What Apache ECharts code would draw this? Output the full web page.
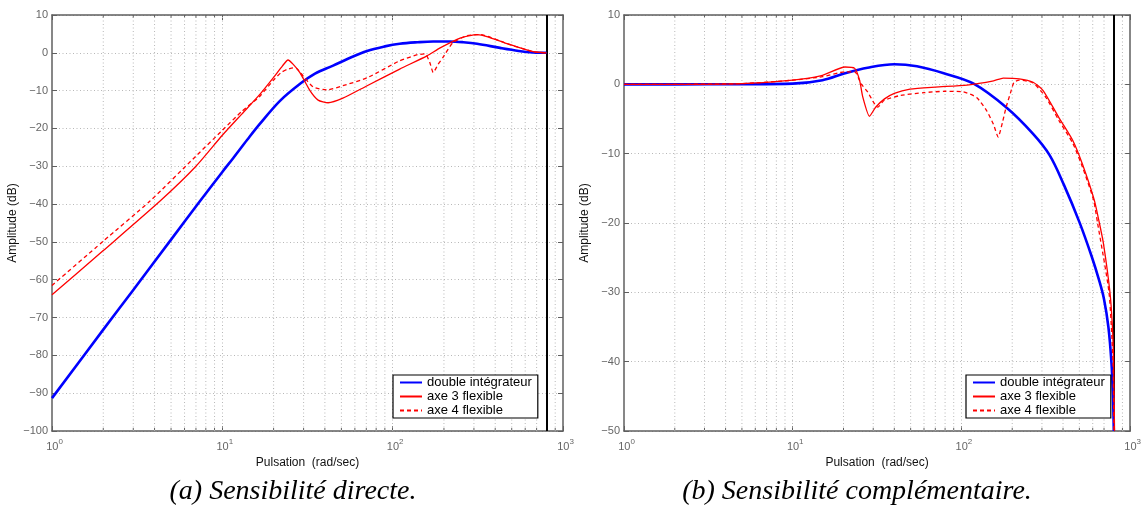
<!DOCTYPE html>
<html>
<head>
<meta charset="utf-8">
<script src="https://cdn.jsdelivr.net/npm/echarts@6/dist/echarts.min.js"></script>
<style>
html,body{margin:0;padding:0;background:#fff;}
#chart{width:1144px;height:509px;}
</style>
</head>
<body>
<div id="chart"></div>
<script>
// ---------- data ----------
const seriesNames = ['double intégrateur', 'axe 3 flexible', 'axe 4 flexible'];
const minorFreqs = [2,3,4,5,6,7,8,9,20,30,40,50,60,70,80,90,200,300,400,500,600,700,800,900];
const nyquistFreq = 800;
const captions = ['(a) Sensibilité directe.', '(b) Sensibilité complémentaire.'];

// (a) Sensibilité directe
const freqBlueA = [1, 2, 3, 5, 7.4, 10, 11.6, 14, 16.6, 21.8, 28.6, 35, 44.7, 55, 70.8, 90, 110, 140, 173, 217, 260, 313, 427, 550, 667, 800];
const ampBlueA  = [-91.3, -73.2, -62.7, -49.4, -39.2, -31.5, -27.8, -23, -18.8, -12.7, -8.2, -5.5, -3.4, -1.5, 0.5, 1.7, 2.4, 2.8, 3.0, 3.0, 2.8, 2.4, 1.3, 0.5, 0.1, 0];
const freqAxe3A = [1, 2, 4.31, 7, 10, 13, 16.6, 20, 22.5, 24.3, 26, 28.6, 32.7, 36.5, 41.8, 51, 70.8, 110, 159, 190, 249, 313, 358, 470, 667, 800];
const ampAxe3A  = [-64, -52.3, -39.2, -30, -21.8, -16.2, -11, -6.5, -3.5, -1.9, -3, -5.3, -10, -12.5, -13.2, -12, -8.7, -4.3, -0.8, 1.3, 3.9, 4.8, 4.3, 2.4, 0.3, 0];
const freqAxe4A = [1, 2, 3.76, 7, 10, 13, 16.5, 19.9, 22, 23.9, 26, 27.4, 29.8, 34.1, 41.1, 51, 70.8, 110, 140, 155, 165, 173, 185, 197, 225, 272, 327, 470, 667, 800];
const ampAxe4A  = [-61.5, -49.8, -39.2, -27.3, -20.5, -15.5, -11.6, -7.3, -5.3, -4.4, -4.0, -4.2, -6.1, -9, -9.8, -8.7, -6.6, -2.1, -0.5, -0.3, -2.5, -5.2, -3, -1.3, 2.6, 4.5, 4.8, 2.4, 0.3, 0];

// (b) Sensibilité complémentaire
const freqBlueB = [1, 2, 5, 10, 15, 20.4, 27.8, 40, 54.5, 78.6, 118, 184, 265, 333, 405, 499, 591, 659, 700, 743, 774, 791, 800];
const ampBlueB  = [0, 0, 0.02, 0.1, 0.6, 1.6, 2.4, 2.9, 2.6, 1.6, 0.1, -3.3, -7.1, -10.2, -14.5, -19.8, -24.8, -28.5, -31, -35, -40, -45, -50];
const freqAxe3B = [1, 2, 5, 10, 15, 20.4, 23.3, 24.9, 26, 28.5, 31, 35, 40, 49.6, 70, 108, 155, 177, 220, 266, 305, 378, 457, 523, 613, 657, 695, 759, 785, 798, 808];
const ampAxe3B  = [0, 0, 0.1, 0.6, 1.3, 2.5, 2.3, 0.6, -1.8, -4.6, -3.3, -2.1, -1.3, -0.7, -0.4, -0.1, 0.5, 0.9, 0.8, 0.3, -0.9, -4.8, -8.1, -11.6, -16.7, -20, -23, -30, -35, -40, -50];
const freqAxe4B = [1, 2, 5, 10, 15, 20.4, 23.3, 25.4, 27.8, 30, 31.9, 34.9, 43.6, 60, 80, 103, 123, 141, 155, 165, 175, 184, 195, 205, 220, 266, 317, 378, 457, 523, 607, 641, 749, 791, 801];
const ampAxe4B  = [0, 0, 0.1, 0.6, 1.1, 1.8, 1.8, 0.1, -1.1, -2.5, -3.3, -2.3, -1.6, -1.2, -1.0, -1.1, -1.9, -3.8, -5.8, -7.6, -5.5, -3.3, -1.3, 0.3, 0.6, 0.2, -1.9, -5.2, -8.5, -12, -16.7, -20, -30, -40, -50];

// ---------- chart ----------
const pair = (f, a) => f.map((v, i) => [v, a[i]]);
const FONT = 'Liberation Sans, Arial, sans-serif';
const GRAY = '#666666';
const AXC = '#5f5f5f';
const GRIDC = '#b8b8b8';

function xAxes(gridIndex) {
  const base = {
    type: 'log', logBase: 10, min: 1, max: 1000, gridIndex,
    splitNumber: 3,
    axisLine: { show: true, onZero: false, lineStyle: { color: AXC, width: 1.5 } },
    axisTick: { show: true, inside: true, length: 5, lineStyle: { color: AXC } },
    splitLine: { show: false },
    minorTick: { show: false }, minorSplitLine: { show: false }
  };
  return [
    Object.assign({}, base, {
      position: 'bottom',
      name: 'Pulsation  (rad/sec)', nameLocation: 'middle', nameGap: 22,
      nameTextStyle: { fontFamily: FONT, fontSize: 12, color: '#111' },
      axisLabel: {
        show: true, margin: 7, fontFamily: FONT,
        formatter: v => '{b|10}{e|' + Math.round(Math.log10(v)) + '}',
        rich: {
          b: { fontSize: 11, color: GRAY, fontFamily: FONT, padding: [0, 0, 0, 5] },
          e: { fontSize: 8, color: GRAY, fontFamily: FONT, padding: [0, 0, 9, 0] }
        }
      }
    }),
    Object.assign({}, base, { position: 'top', axisLabel: { show: false } })
  ];
}
function yAxes(gridIndex, min) {
  const base = {
    type: 'value', min, max: 10, interval: 10, gridIndex,
    axisLine: { show: true, onZero: false, lineStyle: { color: AXC, width: 1.5 } },
    axisTick: { show: true, inside: true, length: 5, lineStyle: { color: AXC } },
  };
  return [
    Object.assign({}, base, {
      position: 'left',
      name: 'Amplitude (dB)', nameLocation: 'middle', nameGap: 33, nameRotate: 90,
      nameTextStyle: { fontFamily: FONT, fontSize: 12, color: '#111' },
      axisLabel: { margin: 4, fontFamily: FONT, fontSize: 11, color: GRAY,
        formatter: v => String(v).replace('-', '\u2212') },
      splitLine: { show: true, lineStyle: { color: GRIDC, type: [1, 2.5], width: 1 } }
    }),
    Object.assign({}, base, { position: 'right', axisLabel: { show: false }, splitLine: { show: false } })
  ];
}

function minorTickSeries(xi, yi, yMin, yMax) {
  return {
    type: 'custom', xAxisIndex: xi, yAxisIndex: yi, silent: true, z: 1,
    data: minorFreqs.map(f => [f, yMin]),
    renderItem: (params, api) => {
      const v = api.value(0);
      const pb = api.coord([v, yMin]);
      const pt = api.coord([v, yMax]);
      const st = { stroke: AXC, lineWidth: 1 };
      return { type: 'group', children: [
        { type: 'line', shape: { x1: pb[0], y1: pb[1], x2: pb[0], y2: pb[1] - 3 }, style: st },
        { type: 'line', shape: { x1: pt[0], y1: pt[1], x2: pt[0], y2: pt[1] + 3 }, style: st },
        { type: 'line', shape: { x1: pb[0], y1: pb[1], x2: pt[0], y2: pt[1] }, style: { stroke: GRIDC, lineWidth: 1, lineDash: [1, 2.5] } }
      ]};
    },
    markLine: {
      silent: true, symbol: ['none', 'none'], label: { show: false },
      lineStyle: { color: GRIDC, type: [1, 2.5], width: 1 },
      data: [{ xAxis: 10 }, { xAxis: 100 }]
    }
  };
}

function curves(xi, yi, fb, ab, f3, a3, f4, a4) {
  return [
    { name: seriesNames[0], type: 'line', xAxisIndex: xi, yAxisIndex: yi, z: 10,
      data: pair(fb, ab), showSymbol: false, symbol: 'none', smooth: 0.35,
      lineStyle: { color: '#0000ff', width: 2.6 }, itemStyle: { color: '#0000ff' },
      markLine: { silent: true, symbol: ['none', 'none'], label: { show: false },
        lineStyle: { color: '#000', type: 'solid', width: 2 },
        data: [{ xAxis: nyquistFreq }] } },
    { name: seriesNames[1], type: 'line', xAxisIndex: xi, yAxisIndex: yi, z: 11,
      data: pair(f3, a3), showSymbol: false, symbol: 'none', smooth: 0.2,
      lineStyle: { color: '#ff0000', width: 1.3 }, itemStyle: { color: '#ff0000' } },
    { name: seriesNames[2], type: 'line', xAxisIndex: xi, yAxisIndex: yi, z: 11,
      data: pair(f4, a4), showSymbol: false, symbol: 'none', smooth: 0.2,
      lineStyle: { color: '#ff0000', width: 1.3, type: [4, 3] }, itemStyle: { color: '#ff0000' } }
  ];
}

function legend(left) {
  return {
    orient: 'vertical', left, top: 375,
    data: seriesNames, itemGap: 1, itemWidth: 22, itemHeight: 12,
    padding: [1, 6, 1, 6], borderColor: '#000', borderWidth: 1.2, backgroundColor: '#fff',
    itemStyle: { opacity: 0 },
    textStyle: { fontFamily: FONT, fontSize: 13, color: '#000' },
    selectedMode: false, z: 20
  };
}

const chart = echarts.init(document.getElementById('chart'), null, { renderer: 'canvas' });
chart.setOption({
  animation: false,
  backgroundColor: '#fff',
  textStyle: { fontFamily: FONT },
  grid: [
    { left: 52, right: 581, top: 15, bottom: 78, containLabel: false },
    { left: 624, right: 8, top: 15, bottom: 78, containLabel: false }
  ],
  xAxis: [...xAxes(0), ...xAxes(1)],
  yAxis: [...yAxes(0, -100), ...yAxes(1, -50)],
  legend: [legend(393), legend(966)],
  graphic: [
    { type: 'text', x: 293, y: 492, style: { text: captions[0], font: 'italic 28px "Liberation Serif", serif', fill: '#000', textAlign: 'center', textVerticalAlign: 'middle' } },
    { type: 'text', x: 857, y: 492, style: { text: captions[1], font: 'italic 28px "Liberation Serif", serif', fill: '#000', textAlign: 'center', textVerticalAlign: 'middle' } }
  ],
  series: [
    minorTickSeries(0, 0, -100, 10),
    minorTickSeries(2, 2, -50, 10),
    ...curves(0, 0, freqBlueA, ampBlueA, freqAxe3A, ampAxe3A, freqAxe4A, ampAxe4A),
    ...curves(2, 2, freqBlueB, ampBlueB, freqAxe3B, ampAxe3B, freqAxe4B, ampAxe4B)
  ]
});
</script>
</body>
</html>
